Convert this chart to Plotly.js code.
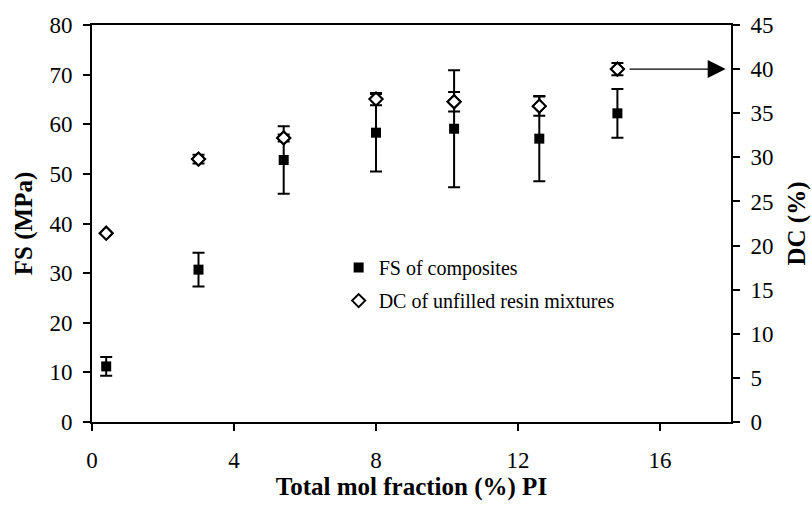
<!DOCTYPE html>
<html>
<head>
<meta charset="utf-8">
<script src="https://cdn.plot.ly/plotly-3.0.1.min.js"></script>
<style>html,body{margin:0;padding:0;background:#fff;}#chart{width:812px;height:508px;}</style>
</head>
<body>
<div id="chart"></div>
<script>
// Data
const molFraction = [0.4, 3.0, 5.4, 8.0, 10.2, 12.6, 14.8];
const fsValues = [11.2, 30.7, 52.8, 58.3, 59.1, 57.1, 62.2];
const fsErrors = [1.9, 3.4, 6.8, 7.8, 11.8, 8.6, 4.9];
const dcValues = [21.4, 29.8, 32.2, 36.6, 36.3, 35.8, 40.0];
const dcErrors = [0, 0.5, 0.4, 0.7, 1.1, 1.1, 0.7];
const xTicks = [0, 4, 8, 12, 16];
const fsTicks = [0, 10, 20, 30, 40, 50, 60, 70, 80];
const dcTicks = [0, 5, 10, 15, 20, 25, 30, 35, 40, 45];

const font = "'Liberation Serif', 'Times New Roman', serif";

const traces = [
  {
    x: molFraction, y: fsValues, name: 'FS of composites', type: 'scatter', mode: 'markers',
    legendgroup: 'a',
    marker: {symbol: 'square', size: 10, color: '#000'},
    error_y: {type: 'data', array: fsErrors, visible: true, color: '#000', thickness: 2, width: 6},
    yaxis: 'y'
  },
  {
    x: molFraction, y: dcValues, name: 'DC of unfilled resin mixtures', type: 'scatter', mode: 'markers',
    legendgroup: 'b',
    marker: {symbol: 'diamond-open', size: 10, color: '#000', line: {width: 2, color: '#000'}},
    error_y: {type: 'data', array: dcErrors, visible: true, color: '#000', thickness: 2, width: 6},
    yaxis: 'y2'
  },
  {
    x: molFraction, y: dcValues, type: 'scatter', mode: 'markers', showlegend: false, hoverinfo: 'skip',
    marker: {symbol: 'diamond', size: 8, color: '#fff'},
    yaxis: 'y2'
  },
  {
    x: molFraction, y: dcValues, type: 'scatter', mode: 'markers', showlegend: false, hoverinfo: 'skip',
    marker: {symbol: 'diamond-open', size: 10, color: '#000', line: {width: 2, color: '#000'}},
    yaxis: 'y2'
  }
];

const layout = {
  width: 812, height: 508,
  margin: {l: 92, r: 81, t: 25, b: 86},
  paper_bgcolor: '#fff', plot_bgcolor: '#fff',
  font: {family: font, size: 20, color: '#000'},
  showlegend: true,
  legend: {
    x: 0.386, y: 0.438, xanchor: 'left', yanchor: 'top',
    font: {family: font, size: 20, color: '#000'},
    bgcolor: 'rgba(0,0,0,0)', tracegroupgap: 4, itemwidth: 30
  },
  xaxis: {
    range: [0, 18], tickvals: xTicks, ticktext: xTicks.map(String),
    showgrid: false, zeroline: false, showline: true, linecolor: '#000', linewidth: 2,
    mirror: true, ticks: 'outside', ticklen: 7, tickwidth: 2, tickcolor: '#000',
    ticklabelstandoff: 9,
    tickfont: {family: font, size: 23, color: '#000'},
    title: {text: '<b>Total mol fraction (%) PI</b>', font: {family: font, size: 25, color: '#000'}, standoff: 1}
  },
  yaxis: {
    range: [0, 80], tickvals: fsTicks, ticktext: fsTicks.map(String),
    showgrid: false, zeroline: false, showline: true, linecolor: '#000', linewidth: 2,
    ticks: 'outside', ticklen: 7, tickwidth: 2, tickcolor: '#000',
    ticklabelstandoff: 6,
    tickfont: {family: font, size: 23, color: '#000'},
    title: {text: '<b>FS (MPa)</b>', font: {family: font, size: 25, color: '#000'}, standoff: 10}
  },
  yaxis2: {
    range: [0, 45], tickvals: dcTicks, ticktext: dcTicks.map(String),
    overlaying: 'y', side: 'right',
    showgrid: false, zeroline: false, showline: true, linecolor: '#000', linewidth: 2,
    ticks: 'outside', ticklen: 7, tickwidth: 2, tickcolor: '#000',
    ticklabelstandoff: 6,
    tickfont: {family: font, size: 23, color: '#000'},
    title: {text: '<b>DC (%)</b>', font: {family: font, size: 25, color: '#000'}, standoff: 15}
  },
  annotations: [
    {
      x: 17.85, y: 40, xref: 'x', yref: 'y2',
      ax: 15.1, ay: 40, axref: 'x', ayref: 'y2',
      showarrow: true, arrowhead: 2, arrowsize: 3, arrowwidth: 1.2, arrowcolor: '#000', text: ''
    }
  ]
};

Plotly.newPlot('chart', traces, layout, {displayModeBar: false, staticPlot: true});
</script>
</body>
</html>
